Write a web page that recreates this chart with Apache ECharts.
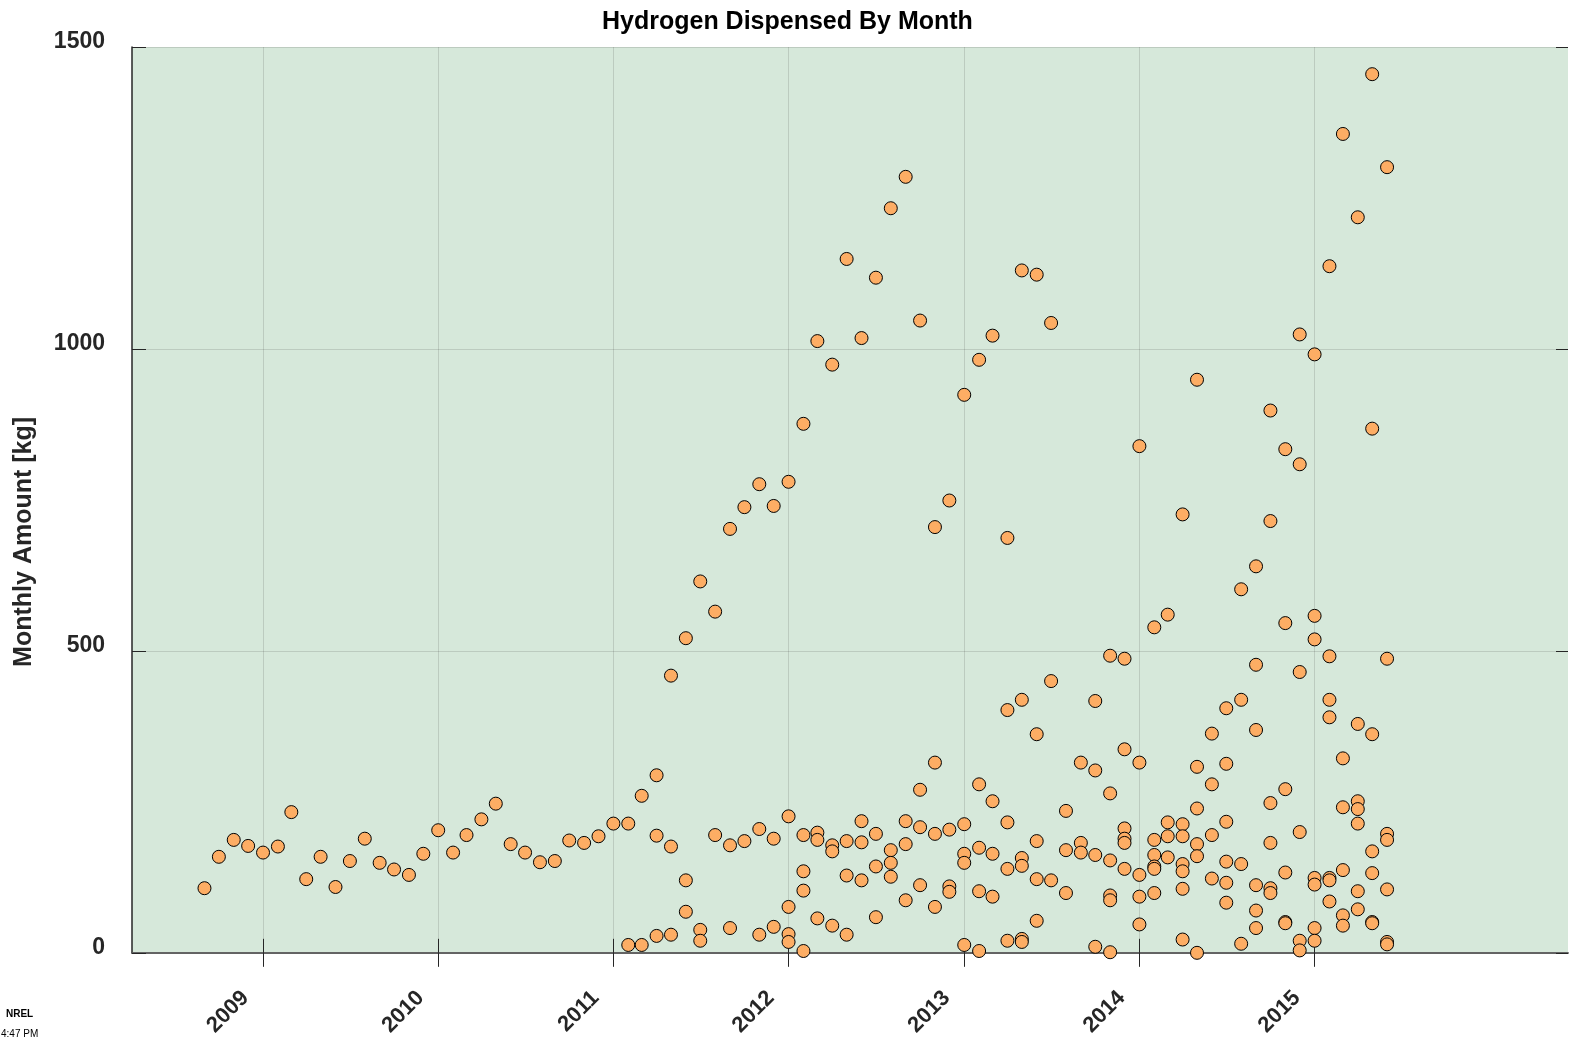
<!DOCTYPE html>
<html>
<head>
<meta charset="utf-8">
<script src="https://cdn.jsdelivr.net/npm/echarts@6/dist/echarts.min.js"></script>
<style>
  html, body { margin: 0; padding: 0; background: #fff; }
  #container { width: 1569px; height: 1039px; }
</style>
</head>
<body>
<div id="container"></div>
<script>
// monthly amounts [kg], one list per month (Jan..Dec), several stations per month
let amounts2008 = [[], [], [], [], [], [], [], [], [107], [159], [187], [177]];
let amounts2009 = [[166], [176], [233], [122], [159], [109], [152], [189], [149], [138], [129], [164]];
let amounts2010 = [[203], [166], [195], [221], [247], [180], [166], [150], [152], [186], [182], [193]];
let amounts2011 = [
    [214], [214, 13], [260, 13], [294, 194, 28], [459, 176, 30], [521, 120, 68],
    [615, 38, 20], [565, 195], [702, 178, 41], [738, 185], [776, 205, 30], [740, 189, 43]
];
let amounts2012 = [
    [780, 226, 76, 31, 18], [876, 195, 135, 103, 3], [1013, 199, 187, 57], [974, 178, 168, 45],
    [1149, 185, 128, 30], [1018, 218, 183, 120], [1118, 197, 143, 59], [1233, 170, 149, 126],
    [1285, 218, 180, 87], [1047, 270, 208, 112], [705, 315, 197, 76], [749, 204, 110, 101]
];
let amounts2013 = [
    [924, 213, 164, 149, 13], [982, 279, 174, 102, 3], [1022, 251, 164, 93], [687, 402, 216, 139, 20],
    [1130, 419, 157, 144, 23, 18], [1123, 362, 185, 122, 53], [1043, 450, 120], [235, 170, 99],
    [315, 182, 166], [417, 302, 162, 10], [492, 264, 153, 95, 87, 1], [487, 337, 206, 189, 182, 139]
];
let amounts2014 = [
    [839, 315, 129, 93, 47], [539, 187, 162, 143, 139, 99], [560, 216, 193, 158],
    [726, 213, 193, 147, 135, 106, 22], [949, 308, 239, 180, 160, 0], [363, 279, 195, 123],
    [405, 313, 217, 151, 116, 83], [602, 419, 147, 15], [640, 477, 369, 112, 70, 41],
    [898, 715, 248, 182, 107, 99], [834, 546, 271, 133, 51, 49], [1024, 809, 465, 200, 20, 4]
];
let amounts2015 = [
    [991, 558, 519, 124, 113, 41, 20], [1137, 491, 419, 390, 124, 120, 85],
    [1356, 322, 241, 137, 62, 45], [1218, 379, 251, 238, 214, 102, 72],
    [1455, 868, 362, 168, 132, 51, 49], [1301, 487, 197, 187, 105, 18, 14]
];
let yearTicks = [2009, 2010, 2011, 2012, 2013, 2014, 2015];

let byYear = {
    2008: amounts2008, 2009: amounts2009, 2010: amounts2010, 2011: amounts2011,
    2012: amounts2012, 2013: amounts2013, 2014: amounts2014, 2015: amounts2015
};
let points = [];
Object.keys(byYear).forEach(year => {
    byYear[year].forEach((list, month) => {
        list.forEach(v => points.push([Date.UTC(+year, month, 1), v]));
    });
});
let tickValues = yearTicks.map(y => Date.UTC(y, 0, 1));

let font = "'Liberation Sans', Arial, sans-serif";
let dark = '#262626';
let gridColor = 'rgba(38,38,38,0.15)';
let xMin = Date.UTC(2008, 3, 3);
let xMax = Date.UTC(2016, 5, 12);

let chart = echarts.init(document.getElementById('container'));
let option = {
    animation: false,
    textStyle: { fontFamily: font },
    title: {
        text: 'Hydrogen Dispensed By Month',
        left: 597,
        top: 5,
        textStyle: { fontSize: 25, fontWeight: 'bold', color: '#000', fontFamily: font },
    },
    grid: {
        left: 132,
        right: 1,
        top: 47,
        bottom: 84,
        show: true,
        backgroundColor: '#d6e8da',
        borderWidth: 0,
    },
    xAxis: [{
        type: 'value',
        min: xMin,
        max: xMax,
        axisLine: { lineStyle: { color: dark, width: 1.5 } },
        axisTick: { inside: true, length: 14, customValues: tickValues, lineStyle: { color: dark } },
        axisLabel: {
            customValues: tickValues,
            rotate: 45,
            margin: 24,
            formatter: v => '{y|' + new Date(v).getUTCFullYear() + '}',
            rich: {
                y: { padding: [0, 25, 0, 0], fontSize: 22, fontWeight: 'bold', color: dark, fontFamily: font },
            },
        },
        splitLine: { show: true, lineStyle: { color: gridColor } },
    }, {
        type: 'value',
        position: 'top',
        min: xMin,
        max: xMax,
        axisLine: { show: true, lineStyle: { color: '#6a6a6a', width: 1.5 } },
        axisTick: { inside: true, length: 14, customValues: tickValues, lineStyle: { color: dark } },
        axisLabel: { show: false },
        splitLine: { show: false },
    }],
    yAxis: [{
        type: 'value',
        min: 0,
        max: 1500,
        interval: 500,
        name: 'Monthly Amount [kg]',
        nameLocation: 'middle',
        nameGap: 95,
        nameTextStyle: { fontSize: 25, fontWeight: 'bold', color: dark, padding: [0, 84, 0, 0] },
        axisLine: { show: true, lineStyle: { color: dark, width: 1.5 } },
        axisTick: { show: true, inside: true, length: 14, lineStyle: { color: dark } },
        axisLabel: {
            margin: 27,
            formatter: v => '{v|' + v + '}',
            rich: {
                v: { padding: [0, 0, 10, 0], fontSize: 23, fontWeight: 'bold', color: dark, fontFamily: font },
            },
        },
        splitLine: { show: true, lineStyle: { color: gridColor } },
    }, {
        type: 'value',
        position: 'right',
        min: 0,
        max: 1500,
        interval: 500,
        axisLine: { show: false },
        axisTick: { show: true, inside: true, length: 12, lineStyle: { color: dark } },
        axisLabel: { show: false },
        splitLine: { show: false },
    }],
    graphic: [{
        type: 'text',
        left: 6,
        top: 1009,
        style: { text: 'NREL', font: "bold 10px 'Liberation Sans', Arial", fill: '#000' },
    }, {
        type: 'text',
        left: 1,
        top: 1029,
        style: { text: '4:47 PM', font: "10px 'Liberation Sans', Arial", fill: '#000' },
    }],
    series: [{
        name: 'Hydrogen',
        type: 'scatter',
        symbol: 'circle',
        symbolSize: 13,
        itemStyle: { color: '#fdad64', borderColor: '#000', borderWidth: 1, opacity: 1 },
        data: points,
    }],
};
chart.setOption(option);
</script>
</body>
</html>
